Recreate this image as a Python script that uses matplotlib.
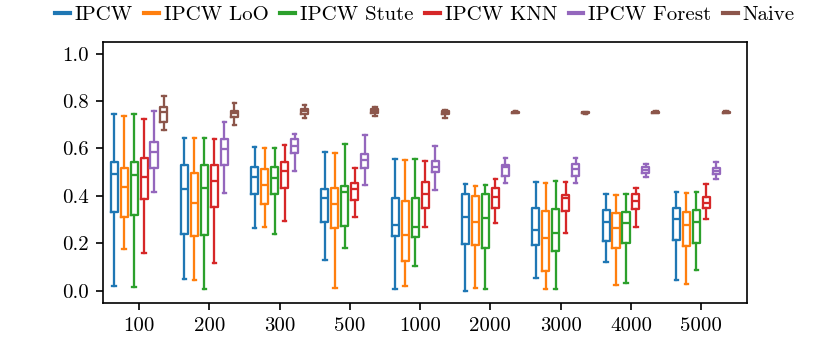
import numpy as np
import matplotlib
matplotlib.use("Agg")
import matplotlib.pyplot as plt
from matplotlib.lines import Line2D

plt.rcParams['font.family'] = 'serif'
plt.rcParams['font.serif'] = ['cmr10', 'DejaVu Serif']
plt.rcParams['mathtext.fontset'] = 'cm'
plt.rcParams['axes.formatter.use_mathtext'] = True
plt.rcParams['font.size'] = 10

# sample sizes on the x axis
sizes = ['100', '200', '300', '500', '1000', '2000', '3000', '4000', '5000']
methods = ['IPCW', 'IPCW LoO', 'IPCW Stute', 'IPCW KNN', 'IPCW Forest', 'Naive']
colors = ['#1f77b4', '#ff7f0e', '#2ca02c', '#d62728', '#9467bd', '#8c564b']

# box statistics: whisker low, q1, median, q3, whisker high
ipcw_lo  = [0.021, 0.050, 0.264, 0.130, 0.007, 0.001, 0.056, 0.122, 0.046]
ipcw_q1  = [0.332, 0.241, 0.408, 0.289, 0.231, 0.198, 0.194, 0.210, 0.215]
ipcw_med = [0.491, 0.428, 0.480, 0.393, 0.276, 0.310, 0.257, 0.292, 0.302]
ipcw_q3  = [0.544, 0.530, 0.523, 0.430, 0.393, 0.408, 0.350, 0.341, 0.348]
ipcw_hi  = [0.745, 0.644, 0.606, 0.586, 0.557, 0.450, 0.460, 0.408, 0.418]

loo_lo  = [0.177, 0.046, 0.271, 0.011, 0.022, 0.013, 0.007, 0.025, 0.029]
loo_q1  = [0.310, 0.233, 0.366, 0.264, 0.128, 0.195, 0.085, 0.181, 0.189]
loo_med = [0.436, 0.370, 0.446, 0.365, 0.236, 0.290, 0.223, 0.264, 0.276]
loo_q3  = [0.519, 0.498, 0.515, 0.435, 0.380, 0.400, 0.335, 0.329, 0.332]
loo_hi  = [0.739, 0.643, 0.602, 0.582, 0.551, 0.442, 0.454, 0.404, 0.414]

stute_lo  = [0.018, 0.010, 0.238, 0.180, 0.105, 0.006, 0.007, 0.032, 0.090]
stute_q1  = [0.320, 0.236, 0.407, 0.275, 0.227, 0.181, 0.168, 0.203, 0.201]
stute_med = [0.488, 0.435, 0.474, 0.415, 0.269, 0.307, 0.243, 0.287, 0.292]
stute_q3  = [0.541, 0.529, 0.523, 0.442, 0.392, 0.408, 0.345, 0.334, 0.341]
stute_hi  = [0.745, 0.644, 0.604, 0.620, 0.555, 0.447, 0.464, 0.407, 0.418]

knn_lo  = [0.159, 0.119, 0.294, 0.313, 0.271, 0.285, 0.245, 0.268, 0.302]
knn_q1  = [0.386, 0.352, 0.432, 0.383, 0.349, 0.350, 0.337, 0.345, 0.348]
knn_med = [0.478, 0.461, 0.505, 0.430, 0.409, 0.394, 0.391, 0.377, 0.371]
knn_q3  = [0.558, 0.529, 0.541, 0.456, 0.459, 0.435, 0.404, 0.408, 0.395]
knn_hi  = [0.726, 0.638, 0.613, 0.516, 0.546, 0.471, 0.457, 0.435, 0.449]

forest_lo  = [0.418, 0.411, 0.506, 0.445, 0.426, 0.453, 0.456, 0.481, 0.471]
forest_q1  = [0.516, 0.530, 0.583, 0.519, 0.502, 0.484, 0.485, 0.496, 0.492]
forest_med = [0.586, 0.597, 0.610, 0.551, 0.520, 0.520, 0.512, 0.510, 0.504]
forest_q3  = [0.627, 0.642, 0.638, 0.576, 0.547, 0.529, 0.533, 0.522, 0.516]
forest_hi  = [0.757, 0.711, 0.662, 0.656, 0.609, 0.560, 0.561, 0.534, 0.543]

naive_lo  = [0.680, 0.700, 0.728, 0.738, 0.728, 0.748, 0.746, 0.748, 0.748]
naive_q1  = [0.712, 0.733, 0.745, 0.748, 0.744, 0.750, 0.748, 0.750, 0.750]
naive_med = [0.752, 0.748, 0.757, 0.757, 0.750, 0.752, 0.750, 0.752, 0.752]
naive_q3  = [0.775, 0.759, 0.766, 0.766, 0.757, 0.754, 0.752, 0.754, 0.754]
naive_hi  = [0.823, 0.792, 0.782, 0.775, 0.764, 0.756, 0.754, 0.756, 0.756]

all_stats = [
    (ipcw_lo, ipcw_q1, ipcw_med, ipcw_q3, ipcw_hi),
    (loo_lo, loo_q1, loo_med, loo_q3, loo_hi),
    (stute_lo, stute_q1, stute_med, stute_q3, stute_hi),
    (knn_lo, knn_q1, knn_med, knn_q3, knn_hi),
    (forest_lo, forest_q1, forest_med, forest_q3, forest_hi),
    (naive_lo, naive_q1, naive_med, naive_q3, naive_hi),
]

fig = plt.figure(figsize=(830 / 150, 346 / 150), dpi=150)
ax = fig.add_axes([0.1245, 0.125, 0.775, 0.7545])

step = 0.142
box_w = 0.1
x = np.arange(len(sizes))

for j, (lo, q1, med, q3, hi) in enumerate(all_stats):
    stats = []
    for i in range(len(sizes)):
        stats.append(dict(whislo=lo[i], q1=q1[i], med=med[i], q3=q3[i], whishi=hi[i]))
    c = colors[j]
    ax.bxp(stats, positions=x + (j - 2.5) * step, widths=box_w,
           showfliers=False, manage_ticks=False,
           boxprops=dict(color=c, linewidth=1.1),
           medianprops=dict(color=c, linewidth=1.1),
           whiskerprops=dict(color=c, linewidth=1.1),
           capprops=dict(color=c, linewidth=1.1))

ax.set_xticks(x)
ax.set_xticklabels(sizes)
ax.set_xlim(-0.508, 8.645)
ax.set_ylim(-0.05, 1.05)
ax.set_yticks([0.0, 0.2, 0.4, 0.6, 0.8, 1.0])
ax.set_yticklabels(['0.0', '0.2', '0.4', '0.6', '0.8', '1.0'])

# legend row above the axes
handles = [Line2D([0], [0], color=c, linewidth=2) for c in colors]
fig.legend(handles, methods, loc='center', bbox_to_anchor=(0.512, 1 - 15 / 346),
           ncol=6, frameon=False, handlelength=0.7, handletextpad=0.25,
           columnspacing=0.55, borderpad=0)

fig.savefig('out.png', dpi=150)
